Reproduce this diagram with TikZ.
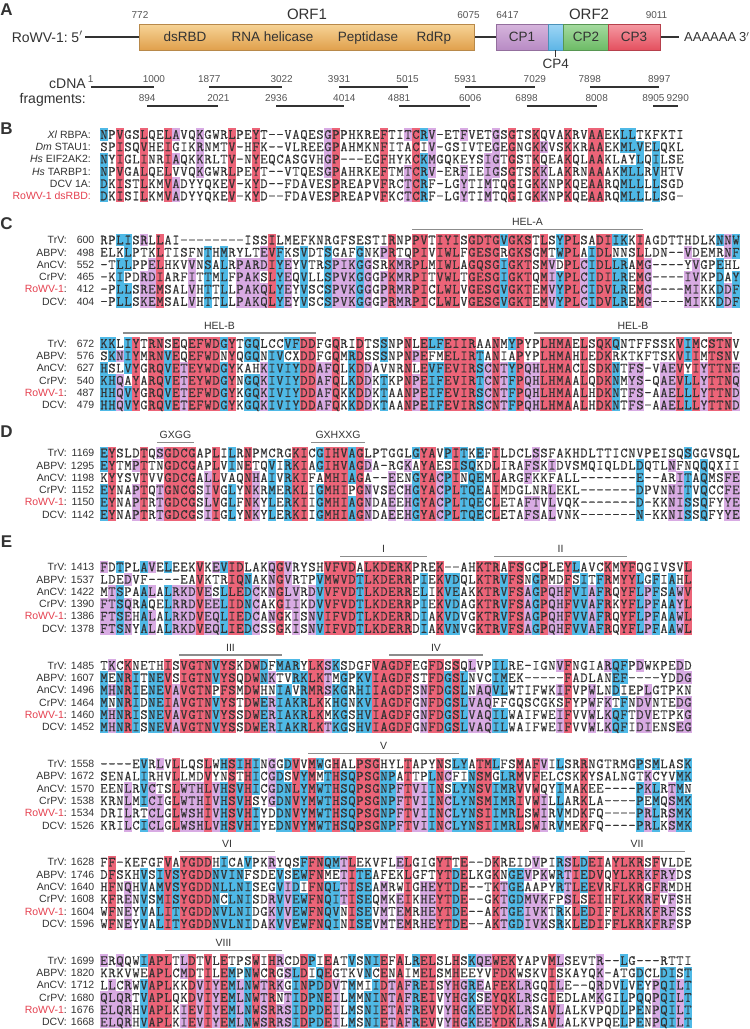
\documentclass[tikz,border=0pt]{standalone}
\usepackage{fontspec}
\setmainfont{Liberation Sans}
\newfontfamily\seqfont{Latin Modern Mono}[FakeBold=0.5]
\usepackage{tikz}
\definecolor{alnred}{HTML}{EC6478}
\definecolor{alnblue}{HTML}{4FB9E6}
\definecolor{alnpurple}{HTML}{D8ABE3}
\definecolor{labred}{HTML}{E5404F}
\definecolor{ink}{HTML}{333333}
\definecolor{numgray}{HTML}{555555}
\definecolor{motifgray}{HTML}{8C8C8C}
\definecolor{orfat}{HTML}{F7D497}
\definecolor{orfab}{HTML}{E0A04C}
\definecolor{orfbd}{HTML}{B8894A}
\definecolor{cpat}{HTML}{D6B5DD}\definecolor{cpab}{HTML}{B88BC4}
\definecolor{cpbt}{HTML}{9ED6F5}\definecolor{cpbb}{HTML}{5DB5E6}
\definecolor{cpct}{HTML}{A5DBA0}\definecolor{cpcb}{HTML}{6DBB66}
\definecolor{cpdt}{HTML}{F59AA3}\definecolor{cpdb}{HTML}{E4505F}

\ExplSyntaxOn
\seq_new:N \l_aln_rows_seq
\seq_new:N \l_aln_g_seq
\int_new:N \l_aln_n_int
\int_new:N \l_aln_len_int
\int_new:N \l_aln_i_int
\int_new:N \l_aln_r_int
\int_new:N \l_aln_cnt_int
\int_new:N \l_aln_max_int
\tl_new:N \l_aln_maxg_tl
\tl_new:N \l_aln_g_tl
\tl_new:N \l_aln_c_tl
\tl_new:N \l_aln_color_tl
\tl_new:N \l_aln_txt_tl
\tl_new:N \l_aln_id_tl
\dim_new:N \l_aln_xo_dim
\dim_new:N \l_aln_yo_dim
\dim_new:N \l_aln_w_dim
\dim_new:N \l_aln_h_dim
\dim_set:Nn \l_aln_xo_dim { 100pt }
\dim_set:Nn \l_aln_w_dim { 8pt }
\dim_set:Nn \l_aln_h_dim { 12.3pt }

\cs_new:Npn \aln_group:n #1
  {
    \str_case:nnF {#1}
      {
        {I}{a} {L}{a} {V}{a} {M}{a}
        {F}{b} {Y}{b} {W}{b}
        {K}{c} {R}{c} {H}{c}
        {D}{d} {E}{d} {N}{d} {Q}{d}
        {S}{e} {T}{e}
        {-}{0}
      }
      {#1}
  }
\cs_new:Npn \aln_char:nn #1 #2 { \seq_item:cn { l_aln_row_ #1 _seq } {#2} }

\cs_new_protected:Npn \aln_store_row:nn #1 #2
  {
    \seq_clear_new:c { l_aln_row_ #1 _seq }
    \str_map_inline:nn {#2}
      { \seq_put_right:cn { l_aln_row_ #1 _seq } {##1} }
  }
\cs_generate_variant:Nn \aln_store_row:nn { Vn }

\cs_new_protected:Npn \aln_cell:nn #1 #2
  {
    \use:x
      {
        \exp_not:N \fill [ \l_aln_color_tl ]
        ( \dim_eval:n { \l_aln_xo_dim + \l_aln_w_dim * (#1 - 1) - 0.15pt } ,
          \dim_eval:n { - \l_aln_yo_dim - \l_aln_h_dim * (#2 - 1) + 0.5\l_aln_h_dim + 0.15pt } )
        rectangle
        ( \dim_eval:n { \l_aln_xo_dim + \l_aln_w_dim * (#1) + 0.15pt } ,
          \dim_eval:n { - \l_aln_yo_dim - \l_aln_h_dim * (#2 - 1) - 0.5\l_aln_h_dim - 0.15pt } ) ;
      }
  }

\cs_new_protected:Npn \aln_column:n #1
  {
    \seq_clear:N \l_aln_g_seq
    \int_step_inline:nn { \l_aln_n_int }
      {
        \tl_set:Nx \l_aln_c_tl { \aln_char:nn {##1} {#1} }
        \tl_set:Nx \l_aln_g_tl { \exp_args:NV \aln_group:n \l_aln_c_tl }
        \seq_put_right:NV \l_aln_g_seq \l_aln_g_tl
      }
    \int_zero:N \l_aln_max_int
    \tl_clear:N \l_aln_maxg_tl
    \seq_map_inline:Nn \l_aln_g_seq
      {
        \str_if_eq:nnF {##1} {0}
          {
            \int_zero:N \l_aln_cnt_int
            \seq_map_inline:Nn \l_aln_g_seq
              { \str_if_eq:nnT {##1} {####1} { \int_incr:N \l_aln_cnt_int } }
            \int_compare:nNnT { \l_aln_cnt_int } > { \l_aln_max_int }
              {
                \int_set_eq:NN \l_aln_max_int \l_aln_cnt_int
                \tl_set:Nn \l_aln_maxg_tl {##1}
              }
          }
      }
    \tl_clear:N \l_aln_color_tl
    \int_compare:nNnTF { \l_aln_max_int } = { \l_aln_n_int }
      { \tl_set:Nn \l_aln_color_tl { alnred } }
      {
        \int_compare:nNnTF { \l_aln_max_int } = { \l_aln_n_int - 1 }
          { \tl_set:Nn \l_aln_color_tl { alnblue } }
          {
            \int_compare:nNnT { \l_aln_max_int } = { \l_aln_n_int - 2 }
              { \tl_set:Nn \l_aln_color_tl { alnpurple } }
          }
      }
    \tl_if_empty:NF \l_aln_color_tl
      {
        \int_zero:N \l_aln_r_int
        \seq_map_inline:Nn \l_aln_g_seq
          {
            \int_incr:N \l_aln_r_int
            \str_if_eq:VnT \l_aln_maxg_tl {##1}
              { \aln_cell:nn {#1} { \int_use:N \l_aln_r_int } }
          }
      }
  }

\cs_new_protected:Npn \aln_textrow:n #1
  {
    \tl_clear:N \l_aln_txt_tl
    \seq_map_inline:cn { l_aln_row_ #1 _seq }
      { \tl_put_right:Nn \l_aln_txt_tl { \hbox_to_wd:nn { \l_aln_w_dim } { \hfil ##1 \hfil } } }
    \use:x
      {
        \exp_not:N \node [ seqnode ] ~ ( s \l_aln_id_tl r #1 ) ~ at ~
          ( \dim_use:N \l_aln_xo_dim ,
            \dim_eval:n { - \l_aln_yo_dim - \l_aln_h_dim * (#1 - 1) } )
          { \exp_not:V \l_aln_txt_tl } ;
      }
  }

\cs_new_protected:Npn \aln_block:nnn #1 #2 #3
  {
    \tl_set:Nn \l_aln_id_tl {#1}
    \dim_set:Nn \l_aln_yo_dim { #2 pt }
    \seq_set_from_clist:Nn \l_aln_rows_seq {#3}
    \int_set:Nn \l_aln_n_int { \seq_count:N \l_aln_rows_seq }
    \int_zero:N \l_aln_i_int
    \seq_map_inline:Nn \l_aln_rows_seq
      {
        \int_incr:N \l_aln_i_int
        \aln_store_row:Vn \l_aln_i_int {##1}
      }
    \int_set:Nn \l_aln_len_int { \seq_count:c { l_aln_row_1_seq } }
    \int_step_inline:nn { \l_aln_len_int } { \aln_column:n {##1} }
    \int_step_inline:nn { \l_aln_n_int } { \aln_textrow:n {##1} }
  }
\cs_new_eq:NN \alnblock \aln_block:nnn
\ExplSyntaxOff

\newcommand\RW{\textcolor{labred}{RoWV-1}:}
\newcommand\famlabels[3]{%
  \foreach \nm/\nu [count=\i from 0] in {#3}{%
    \node[labname] (#1n\i) at (67,{#2+\i*12.3}) {\nm};
    \node[labnum] (#1m\i) at (94.5,{#2+\i*12.3}) {\nu};
  }}
\newcommand\motif[5]{%
  \coordinate (#1a) at (#2,{#4-10.5});
  \coordinate (#1b) at (#3,{#4-10.5});
  \draw[motifline] (#1a) -- (#1b);
  \node[motiflab] (#1t) at ({(#2+#3)/2},{#4-18}) {#5};
}
\newcommand\frag[5]{%
  \pgfmathsetmacro\fa{90.7+0.06318*#2}%
  \pgfmathsetmacro\fb{90.7+0.06318*#3}%
  \coordinate (#1a) at (\fa,#4);
  \coordinate (#1b) at (\fb,#4);
  \draw[fragline] (#1a) -- (#1b);
  \node[numlab] (#1p) at (\fa,#5) {#2};
  \node[numlab] (#1q) at (\fb,#5) {#3};
}

\begin{document}
\begin{tikzpicture}[x=1pt,y=-1pt,
  seqnode/.style={inner sep=0pt, outer sep=0pt, anchor=west, text height=8.55pt, text depth=0pt, font=\fontsize{14}{14}\seqfont, text=ink},
  labname/.style={inner sep=0pt, anchor=east, text height=7.5pt, text depth=0pt, font=\fontsize{10.5}{12}\selectfont, text=ink},
  labnum/.style={labname},
  motifline/.style={draw=motifgray, line width=1.2pt},
  motiflab/.style={inner sep=0pt, text height=7.5pt, text depth=0pt, font=\fontsize{10.5}{12}\selectfont, text=ink},
  panel/.style={inner sep=0pt, text height=12pt, text depth=0pt, font=\fontsize{17}{17}\selectfont\bfseries, text=ink},
  big/.style={inner sep=0pt, text height=10pt, text depth=0pt, font=\fontsize{14}{16}\selectfont, text=ink},
  tail/.style={inner sep=0pt, text height=9.3pt, text depth=0pt, font=\fontsize{13}{15}\selectfont, text=ink},
  orflab/.style={inner sep=0pt, text height=10.8pt, text depth=0pt, font=\fontsize{15}{17}\selectfont, text=ink},
  boxlab/.style={inner sep=0pt, text height=9.7pt, text depth=0pt, font=\fontsize{13.5}{15}\selectfont, text=ink},
  numlab/.style={inner sep=0pt, text height=7.1pt, text depth=0pt, font=\fontsize{10}{12}\selectfont, text=numgray},
  genome/.style={draw=ink, line width=1.8pt},
  fragline/.style={draw=ink, line width=2pt},
  orf/.style={draw=orfbd, line width=0.5pt}]
\useasboundingbox (0,0) rectangle (750,1029);
\fill[white] (0,0) rectangle (750,1029);

% ---------------- Panel A ----------------
\node[panel] (pA) at (6.5,9) {A};
\node[big, anchor=east] (rowv) at (68,37) {RoWV-1:};
\node[big] (five) at (77,37) {5$'$};
\coordinate (g5) at (85,37);
\coordinate (g3) at (679,37);
\draw[genome] (g5) -- (g3);
\shade[orf, top color=orfat, bottom color=orfab] (139.5,24) rectangle (474.5,50);
\shade[orf, draw=cpab!80!black, top color=cpat, bottom color=cpab] (496.1,24) rectangle (548,50);
\shade[orf, draw=cpbb!80!black, top color=cpbt, bottom color=cpbb] (548,24) rectangle (563.5,50);
\shade[orf, draw=cpcb!80!black, top color=cpct, bottom color=cpcb] (563.5,24) rectangle (608,50);
\shade[orf, draw=cpdb!80!black, top color=cpdt, bottom color=cpdb] (608,24) rectangle (660,50);
\node[boxlab] (dsrbd) at (185,37) {dsRBD};
\node[boxlab] (hel) at (272.5,37) {RNA helicase};
\node[boxlab] (pep) at (368,37) {Peptidase};
\node[boxlab] (rdrp) at (434,37) {RdRp};
\node[boxlab] (cp1) at (522,37) {CP1};
\node[boxlab] (cp2) at (586,37) {CP2};
\node[boxlab] (cp3) at (634,37) {CP3};
\coordinate (cp4a) at (555.7,50);
\coordinate (cp4b) at (555.7,57);
\draw[ink, line width=0.7pt] (cp4a) -- (cp4b);
\node[boxlab] (cp4) at (555.7,64) {CP4};
\node[orflab] (orf1) at (307,14) {ORF1};
\node[orflab] (orf2) at (589,14) {ORF2};
\node[numlab] (n772) at (140,15) {772};
\node[numlab] (n6075) at (468.5,15) {6075};
\node[numlab] (n6417) at (507.5,15) {6417};
\node[numlab] (n9011) at (656.5,15) {9011};
\node[tail, anchor=west] (polyA) at (684,37) {AAAAAA};
\node[tail, anchor=east] (three) at (749.5,37) {3$'$};
\node[big, anchor=east] (cdna) at (86,83) {cDNA};
\node[big, anchor=east] (frags) at (86,98) {fragments:};
\frag{fa}{1}{1000}{87}{78.5}
\frag{fb}{1877}{3022}{87}{78.5}
\frag{fc}{3931}{5015}{87}{78.5}
\frag{fd}{5931}{7029}{87}{78.5}
\frag{fe}{7898}{8997}{87}{78.5}
\frag{ff}{894}{2021}{106}{97.5}
\frag{fg}{2936}{4014}{106}{97.5}
\frag{fh}{4881}{6006}{106}{97.5}
\frag{fi}{6898}{8008}{106}{97.5}
\frag{fj}{8905}{9290}{106}{97.5}

% ---------------- Panel B ----------------
\node[panel] (pB) at (6.5,128) {B};
\alnblock{B}{134.5}{
NPVGSLQELAVQKGWRLPEYT--VAQESGPPHKREFTITCRV-ETFVETGSGTSKQVAKRVAAEKLLTKFKTI,
SPISQVHEIGIKRNMTV-HFK--VLREEGPAHMKNFITACIV-GSIVTEGEGNGKKVSKKRAAEKMLVELQKL,
NYIGLINRIAQKKRLTV-NYEQCASGVHGP---EGFHYKCKMGQKEYSIGTGSTKQEAKQLAAKLAYLQILSE,
NPVGALQELVVQKGWRLPEYT--VTQESGPAHRKEFTMTCRV-ERFIEIGSGTSKKLAKRNAAAKMLLRVHTV,
DKISTLKMVADYYQKEV-KYD--FDAVESPREAPVFRCTCRF-LGYTIMTQGIGKKNPKQEAARQMLLLLSGD,
DKISILKMVADYYQKEV-KYD--FDAVESPREAPVFKCTCRF-LGYTIMTQGIGKKNPKQEAARQMLLLLSG-}
\foreach \nm [count=\i from 0] in {{\textit{Xl} RBPA:},{\textit{Dm} STAU1:},{\textit{Hs} EIF2AK2:},{\textit{Hs} TARBP1:},{DCV 1A:},{\textcolor{labred}{RoWV-1 dsRBD:}}}{
  \node[labname] (Bn\i) at (91,{134.5+\i*12.3}) {\nm};
}

% ---------------- Panel C ----------------
\node[panel] (pC) at (6.5,223) {C};
\motif{hela}{412}{643}{240}{HEL-A}
\alnblock{CA}{240}{
RPLISRLLAI--------ISSILMEFKNRGFSESTIRNPPVTIYISGDTGVGKSTLSYPLSADIIKKIAGDTTHDLKNNW,
ELKLPTKLTISFNTHMRYLTEVFKSVDTSGAFGNKPRTQPIVIWLFGESGRGKSGMTWPLAIDLNNSLLDN--VDEMRNF,
-TLLPPELHKVVNSALRPARDIYEYVTRSPIKGGSRKMRPLMIWLAGQSGIGKTSMVDPLCIDLLRAMG----YVGPEHL,
-KIPDRDIARFITTMLFPAKSLYEQVLLSPVKGGGPKMRPITVWLTGESGIGKTQMIYPLCIDILREMG----IVKPDAY,
-PLLSREMSALVHTTLLPAKQLYEYVSCSPVKGGGPRMRPICLWLVGESGVGKTEMVYPLCIDVLREMG----MIKKDDF,
-PLLSKEMSALVHTTLLPAKQLYEYVSCSPVKGGGPRMRPICLWLVGESGVGKTEMVYPLCIDVLREMG----MIKKDDF}
\famlabels{CA}{240}{TrV:/600, ABPV:/498, AnCV:/552, CrPV:/465, \RW/412, DCV:/404}

\motif{helb}{123}{316}{343.5}{HEL-B}
\motif{helc}{534}{732}{343.5}{HEL-B}
\alnblock{CB}{343.5}{
KKLIYTRNSEQEFWDGYTGQLCCVFDDFGQRIDTSSNPNLELFEIIRAANMYPYPLHMAELSQKQNTFFSSKVIMCSTNV,
SKNIYMRNVEQEFWDNYQGQNIVCXDDFGQMRDSSSNPNPEFMELIRTANIAPYPLHMAHLEDKRKTKFTSKVIIMTSNV,
HSLVYGRQVETEYWDGYKAHKIVIYDDAFQLKDDAVNRNLEVFEVIRSCNTYPQHLHMACLSDKNTFS-VAEVYIYTTNE,
KHQAYARQVETEYWDGYNGQKIVIYDDAFQLKDDKTKPNPEIFEVIRTCNTFPQHLHMAALQDKNMYS-QAEVLLYTTNQ,
HHQVYGRQVETEFWDGYKGQKIVIYDDAFQKKDDKTAANPEIFEVIRSCNTFPQHLHMAALHDKNTFS-AAELLLYTTND,
HHQVYGRQVETEFWDGYKGQKIVIYDDAFQKKDDKTAANPEIFEVIRSCNTFPQHLHMAALHDKNTFS-AAELLLYTTND}
\famlabels{CB}{343.5}{TrV:/672, ABPV:/576, AnCV:/627, CrPV:/540, \RW/487, DCV:/479}

% ---------------- Panel D ----------------
\node[panel] (pD) at (6.5,431) {D};
\motif{gxgg}{157}{194}{453}{GXGG}
\motif{gxhxxg}{311}{365}{453}{GXHXXG}
\alnblock{D}{453}{
EYSLDTQSGDCGAPLILRNPMCRGKICGIHVAGLPTGGLGYAVPITKEFILDCLSSFAKHDLTTICNVPEISQSGGVSQL,
EYTMPTTNGDCGAPLVINETQVIRKIAGIHVAGDA-RGKAYAESISQKDLIRAFSKIDVSMQIQLDLDQTLNFNQQQXII,
KYYSVTVVGDCGALLVAQNHAIVRKIFAMHIAGA--EENGYACPINQEMLARGFKKFALL-------E--ARITAQMSFE,
EYNAPTQTGNCGSIVGLYNKRMERKLIGMHIPGNVSECHGYACPLTQEAIMDGLNRLEKL-------DPVNNITVQCCFE,
EYNAPTRTGDCGSLVGLFNKYLERKIIGMHIAGNDAEEHGYACPLTQECLETAFTVLVQK-------D-KKNISSQFYYE,
EYNAPTRTGDCGSIIGLYNKYLERKIIGMHIAGNDAEEHGYACPLTQECLETAFSALVNK-------N-KKNISSQFYYE}
\famlabels{D}{453}{TrV:/1169, ABPV:/1295, AnCV:/1198, CrPV:/1152, \RW/1150, DCV:/1142}

% ---------------- Panel E ----------------
\node[panel] (pE) at (6.5,541) {E};
\motif{mI}{340}{427}{567}{I}
\motif{mII}{494}{627}{567}{II}
\alnblock{EA}{567}{
FDTPLAVELEEKVKEVIDLAKQGVRYSHVFVDALKDERKPREK--AHKTRAFSGCPLEYLAVCKMYFQGIVSVL,
LDEDVF----EAVKTRIQNAKNGVRTPVMWVDTLKDERRPIEKVDQLKTRVFSNGPMDFSITFRMYYLGFIAHL,
MTSPAALALRKDVESLLEDCKNGLVRDVVFVDTLKDERRELIKVEAKKTRVFSAGPQHFVIAFRQYFLPFSAWV,
FTSQRAQELRRDVEELIDNCAKGIIKDVVFVDTLKDERRPIEKVDAGKTRVFSAGPQHFVVAFRKYFLPFAAYL,
FTSEHALALRKDVEQLIEDCANGKISNVIFVDTLKDERRDIAKVDVGKTRVFSAGPQHFVVAFRQYFLPFAAWL,
FTSNYALALRKDVEQLIEDCSSGKISNVIFVDTLKDERRDIAKVNVGKTRVFSAGPQHFVVAFRQYFLPFAAWL}
\famlabels{EA}{567}{TrV:/1413, ABPV:/1537, AnCV:/1422, CrPV:/1390, \RW/1386, DCV:/1378}

\motif{mIII}{179}{282}{665.4}{III}
\motif{mIV}{389}{483}{665.4}{IV}
\alnblock{EB}{665.4}{
TKCKNETHISVGTNVYSKDWDFMARYLKSKSDGFVAGDFEGFDSSQLVPILRE-IGNVFNGIARQFPDWKPEDD,
MENRITNEVSIGTNVYSQDWNKTVRKLKTMGPKVIAGDFSTFDGSLNVCIMEK-----FADLANEF----YDDG,
MHNRIENEVAVGTNPFSMDWHNIAVRMRSKGRHIIAGDFSNFDGSLNAQVLWTIFWKIFVPWLNDIEPLGTPKN,
MNNRIDNEIAVGTNVYSTDWERIAKRLKKHGNKVIAGDFGNFDGSLVAQFFGQSCGKSFYPWFKTFNDVNTEDG,
MHNRISNEVAVGTNVYSSDWERIAKRLKMKGSHVIAGDFGNFDGSLVAQILWAIFWEIFVVWLKQFTDVETPKG,
MHNRISNEVAVGTNVYSSDWERIAKRLKTKGSHVIAGDFGNFDGSLVAQILWAIFWEIFVVWLKQFIDIENSEG}
\famlabels{EB}{665.4}{TrV:/1485, ABPV:/1607, AnCV:/1496, CrPV:/1464, \RW/1460, DCV:/1452}

\motif{mV}{308}{459}{763.8}{V}
\alnblock{EC}{763.8}{
----EVRLVLLQSLWHSIHINGGDVVMWGHALPSGHYLTAPYNSLYATMLFSMAFVILSRRNGTRMGPSMLASK,
SENALIRHVLLMDVYNSTHICGDSVYMMTHSQPSGNPATTPLNCFINSMGLRMVFELCSKKYSALNGTKCYVMK,
EENLRVCTSLWTHLVHSVHICGDNLYMWTHSQPSGNPFTVIINSLYNSVIMRVVWQYIMAKEE----PKLRTMN,
KRNLMICIGLWTHIVHSVHSYGDNVYMWTHSQPSGNPFTVIINCLYNSMIMRIVWILLARKLA----PEMQSMK,
DRILRTCLGLWSHIVHSVHIYDDNVYMWTHSQPSGNPFTVIINCLYNSIIMRLSWIRVMDKFQ----PRLRSMK,
KRILCICLGLWSHLVHSVHIYEDNVYMWTHSQPSGNPFTVIINCLYNSIIMRLSWIRVMEKFQ----PRLKSMK}
\famlabels{EC}{763.8}{TrV:/1558, ABPV:/1672, AnCV:/1570, CrPV:/1538, \RW/1534, DCV:/1526}

\motif{mVI}{179}{275}{862.2}{VI}
\motif{mVII}{589}{685}{862.2}{VII}
\alnblock{ED}{862.2}{
FF-KEFGFVAYGDDHICAVPKRYQSFFNQMTLEKVFLELGIGYTTE--DKREIDVPIRSLDEIAYLKRSFVLDE,
DFSKHVSIVSYGDDNVINFSDEVSEWFNMETITEAFEKLGFTYTDELKGKNGEVPKWRTIEDVQYLKRKFRYDS,
HFNQHVAMVSYGDDNLLNISEGVIDIFNQLTISEAMRWIGHEYTDE--TKTGEAAPYRTLEEVRFLKRGFRMDH,
KFRENVSMISYGDDNCLNISDRVVEWFNQITISEQMKEIKHEYTDE--GKTGDMVKFPSLSEIHFLKKRFVFSH,
WFNEYVALITYGDDNVLNIDGKVVEWFNQVNISEVMTEMRHEYTDE--AKTGEIVKTRKLEDIFFLKRKFRFSS,
WFNEYVALITYGDDNVLNIDAKVVEWFNQINISEVMTEMRHEYTDE--AKTGDIVKSRKLEDIFFLKRKFRFSP}
\famlabels{ED}{862.2}{TrV:/1628, ABPV:/1746, AnCV:/1640, CrPV:/1608, \RW/1604, DCV:/1596}

\motif{mVIII}{165}{282}{960.6}{VIII}
\alnblock{EE}{960.6}{
ERQQWIAPLTLDTVLETPSWIHRCDDPIEATVSNIEFALRELSLHSKQEWEKYAPVMLSEVTR--LG---RTTI,
KRKVWEAPLCMDTILEMPNWCRGSLDIQEGTKVNCENAIMELSMHEEYVFDKWSKVISKAYQK-ATGDCLDIST,
LLCRWVAPLKKDVIYEMLNWTRKGINPDDVTMMIIDTAFREISYHGREAFEKLRGQILE--QRDVLVEYPQILT,
QLQRTVAPLQKDVIYEMLNWTRNTIDPNEILMMNINTAFREIVYHGKSEYQKLRSGIEDLAMKGILPQQPQILT,
ELQRHVAPLKIEVIYEMLNWSRRSIDPDEILMSNIETAFREVVYHGKEEYDKLRSAVLALKVPQDLPENPQILT,
ELQRHVAPLKIEVIYEMLNWSRRSIDPDEILMSNIETAFREVVYHGKEEYDKLRSAVLALKVPQELPENPQILT}
\famlabels{EE}{960.6}{TrV:/1699, ABPV:/1820, AnCV:/1712, CrPV:/1680, \RW/1676, DCV:/1668}
\end{tikzpicture}
\end{document}
